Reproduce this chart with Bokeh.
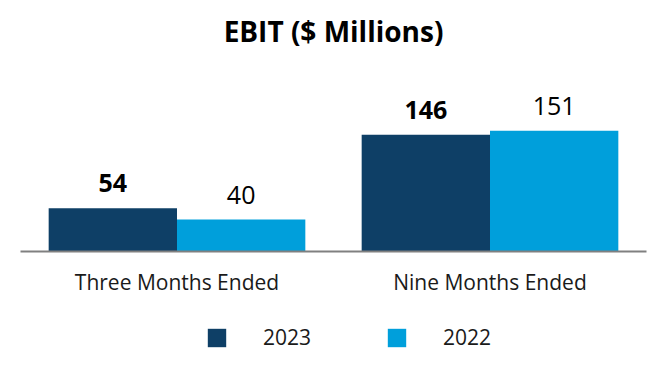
from bokeh.plotting import figure
from bokeh.layouts import column
from bokeh.models import ColumnDataSource, FactorRange, Range1d, Legend, LegendItem, Label
from bokeh.transform import dodge
from bokeh.core.properties import value
from bokeh.embed import file_html
from bokeh.resources import INLINE

# ---- data ----
categories = ["Three Months Ended", "Nine Months Ended"]
ebit_2023 = [54, 146]
ebit_2022 = [40, 151]
series_labels = ["2023", "2022"]
title_text = "EBIT ($ Millions)"

DARK = "#0E3F66"
LIGHT = "#009FDB"
FONT = "Open Sans"

source = ColumnDataSource(dict(
    cat=categories,
    v23=ebit_2023,
    v22=ebit_2022,
    t23=[str(v) for v in ebit_2023],
    t22=[str(v) for v in ebit_2022],
))

p = figure(width=650, height=301,
           x_range=FactorRange(*categories, range_padding=0),
           y_range=Range1d(0, 303.75),
           output_backend="svg", toolbar_location=None,
           min_border_left=20, min_border_right=4,
           min_border_top=8, min_border_bottom=50)

p.outline_line_color = None
p.grid.visible = False
p.yaxis.visible = False

bw = 0.41
r23 = p.vbar(x=dodge("cat", -bw / 2, range=p.x_range), top="v23", width=bw,
             source=source, fill_color=DARK, line_color=None)
r22 = p.vbar(x=dodge("cat", bw / 2, range=p.x_range), top="v22", width=bw,
             source=source, fill_color=LIGHT, line_color=None)

p.text(x=dodge("cat", -bw / 2, range=p.x_range), y="v23", text="t23", source=source,
       text_align="center", text_baseline="alphabetic", y_offset=-25,
       text_font=value(FONT), text_font_style="bold", text_font_size="25px",
       text_color="#000000")
p.text(x=dodge("cat", bw / 2, range=p.x_range), y="v22", text="t22", source=source,
       text_align="center", text_baseline="alphabetic", y_offset=-25,
       text_font=value(FONT), text_font_style="normal", text_font_size="25px",
       text_color="#000000")

xa = p.xaxis[0]
xa.axis_line_color = "#808080"
xa.axis_line_width = 2
xa.major_tick_line_color = None
xa.minor_tick_line_color = None
xa.major_tick_out = 0
xa.major_label_standoff = 16
xa.major_label_text_font = FONT
xa.major_label_text_font_size = "21px"
xa.major_label_text_color = "#1a1a1a"

p.add_layout(Label(x=1.0, y=276, text=title_text, text_align="center",
                   text_baseline="middle", text_font=FONT, text_font_style="bold",
                   text_font_size="28px", text_color="#000000"))

# ---- legend strip ----
lg = figure(width=650, height=79, x_range=FactorRange(*categories), y_range=Range1d(0, 1),
            output_backend="svg", toolbar_location=None,
            min_border_left=0, min_border_right=0, min_border_top=0, min_border_bottom=0)
lg.outline_line_color = None
lg.grid.visible = False
lg.axis.visible = False
k23 = lg.vbar(x="cat", top="v23", width=0.1, source=source, fill_color=DARK,
              line_color=None, visible=False)
k22 = lg.vbar(x="cat", top="v22", width=0.1, source=source, fill_color=LIGHT,
              line_color=None, visible=False)

legend = Legend(items=[LegendItem(label=series_labels[0], renderers=[k23]),
                       LegendItem(label=series_labels[1], renderers=[k22])],
                orientation="horizontal", location=(185, 29),
                glyph_width=23, glyph_height=23, label_standoff=35, spacing=74,
                padding=0, margin=0, border_line_color=None, background_fill_alpha=0,
                inactive_fill_alpha=0,
                label_text_font=FONT, label_text_font_size="21px",
                label_text_color="#1a1a1a", label_height=23)
lg.add_layout(legend)

layout = column(p, lg, spacing=0)
open("out.html", "w").write(file_html(layout, INLINE))
